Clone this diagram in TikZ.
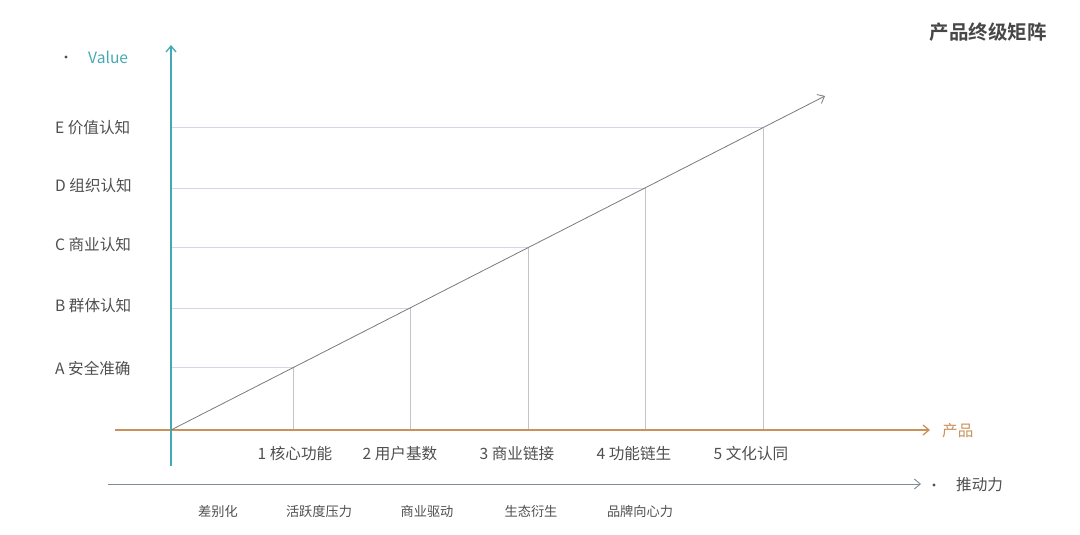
\documentclass[tikz,border=0pt]{standalone}
\usepackage{fontspec}
\setmainfont{Noto Sans CJK SC}
\newfontfamily\titlefont{Noto Sans CJK SC Bold}
\usetikzlibrary{arrows.meta}
\definecolor{teal1}{HTML}{45A9B5}
\definecolor{orange1}{HTML}{C8925A}
\definecolor{lav}{HTML}{DCD3EA}
\definecolor{vline}{HTML}{C4C4C4}
\definecolor{diag}{HTML}{7A7A7A}
\definecolor{blueg}{HTML}{7F8C99}
\definecolor{txt}{HTML}{4F4F4F}
\tikzset{
  lbl/.style={font=\fontsize{15.6}{17}\selectfont, text=txt, inner sep=0pt},
  botlbl/.style={font=\fontsize{13.2}{15}\selectfont, text=txt, inner sep=0pt},
  tip/.style={-{Straight Barb[length=6pt,width=10pt]}},
  level/.style={draw=lav, line width=0.8pt},
  drop/.style={draw=vline, line width=0.8pt},
}
\begin{document}
\begin{tikzpicture}[x=1pt,y=-1pt]
\useasboundingbox (0,0) rectangle (1080,535);
% title
\node[font=\titlefont\fontsize{19.5}{21}\selectfont, text=black!72, anchor=east, inner sep=0pt] (title) at (1047,32) {产品终级矩阵};
% coordinates
\coordinate (O) at (171,430);
\coordinate (ytop) at (171,45);
\coordinate (ybot) at (171,466);
\coordinate (xl) at (115,430);
\coordinate (xr) at (930,430);
\coordinate (dend) at (825,96);
\coordinate (bl) at (108,484);
\coordinate (br) at (921,484);
% level points on diagonal
\coordinate (pA) at (293,367.7);
\coordinate (pB) at (410,308);
\coordinate (pC) at (528,247.7);
\coordinate (pD) at (645,188);
\coordinate (pE) at (763,127.6);
% levels
\foreach \p in {A,B,C,D,E}{
  \draw[level] (O |- p\p) -- (p\p);
  \draw[drop] (p\p) -- (p\p |- O);
}
% axes
\draw[orange1, line width=1.3pt, tip] (xl) -- (xr);
\draw[teal1, line width=1.3pt, tip] (ybot) -- (ytop);
\draw[diag, line width=0.8pt, tip] (O) -- (dend);
\draw[blueg, line width=0.9pt, tip] (bl) -- (br);
% axis labels
\fill[txt] (66,57) circle (1.7pt);
\node[lbl, text=teal1, anchor=west] (value) at (88,57) {Value};
\node[lbl, text=orange1, anchor=west] (prod) at (942,431) {产品};
\fill[txt] (934,485) circle (1.7pt);
\node[lbl, anchor=west] (push) at (956,485) {推动力};
% left labels
\node[lbl, anchor=west] (lE) at (55,128) {E 价值认知};
\node[lbl, anchor=west] (lD) at (55,186) {D 组织认知};
\node[lbl, anchor=west] (lC) at (55,245) {C 商业认知};
\node[lbl, anchor=west] (lB) at (55,306) {B 群体认知};
\node[lbl, anchor=west] (lA) at (55,368) {A 安全准确};
% number labels
\node[lbl] (n1) at (295,454) {1 核心功能};
\node[lbl] (n2) at (400,454) {2 用户基数};
\node[lbl] (n3) at (517,454) {3 商业链接};
\node[lbl] (n4) at (634,454) {4 功能链生};
\node[lbl] (n5) at (751,454) {5 文化认同};
% bottom labels
\node[botlbl] (b1) at (218,511) {差别化};
\node[botlbl] (b2) at (319,511) {活跃度压力};
\node[botlbl] (b3) at (427,511) {商业驱动};
\node[botlbl] (b4) at (531,511) {生态衍生};
\node[botlbl] (b5) at (640,511) {品牌向心力};
\end{tikzpicture}
\end{document}
